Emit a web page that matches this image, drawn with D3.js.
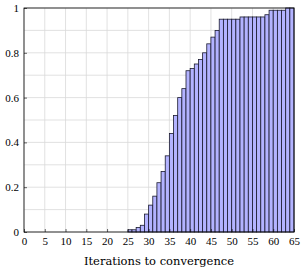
<!DOCTYPE html>
<html>
<head>
<meta charset="utf-8">
<script src="https://cdn.jsdelivr.net/npm/d3@7"></script>
<style>
  body { margin: 0; background: #fff; }
</style>
</head>
<body>
<svg id="chart" width="305" height="275"></svg>
<script>
// Data: iterations (bin start) and cumulative fraction converged
const iterations = [25,26,27,28,29,30,31,32,33,34,35,36,37,38,39,40,41,42,43,44,45,46,47,48,49,50,51,52,53,54,55,56,57,58,59,60,61,62,63,64];
const fraction   = [0.01,0.01,0.02,0.03,0.08,0.12,0.16,0.22,0.27,0.34,0.44,0.52,0.60,0.64,0.72,0.73,0.75,0.77,0.80,0.84,0.87,0.90,0.95,0.95,0.95,0.95,0.95,0.96,0.96,0.96,0.96,0.96,0.96,0.97,0.99,0.99,0.99,0.99,1.00,1.00];
const xTicks = [0,5,10,15,20,25,30,35,40,45,50,55,60,65];
const yTicks = [0,0.2,0.4,0.6,0.8,1];
const yGrid  = [0,0.1,0.2,0.3,0.4,0.5,0.6,0.7,0.8,0.9,1];
const xLabel = "Iterations to convergence";

const svg = d3.select("#chart");
const x = d3.scaleLinear().domain([0, 65]).range([24, 294]);
const y = d3.scaleLinear().domain([0, 1]).range([232, 8]);

// grid
svg.append("g").selectAll("line").data(xTicks).join("line")
  .attr("x1", d => x(d)).attr("x2", d => x(d))
  .attr("y1", y(0)).attr("y2", y(1))
  .attr("stroke", "#d9d9d9").attr("stroke-width", 0.8);
svg.append("g").selectAll("line").data(yGrid).join("line")
  .attr("x1", x(0)).attr("x2", x(65))
  .attr("y1", d => y(d)).attr("y2", d => y(d))
  .attr("stroke", "#d9d9d9").attr("stroke-width", 0.8);

// bars
svg.append("g").selectAll("rect").data(iterations).join("rect")
  .attr("x", d => x(d))
  .attr("width", d => x(d + 1) - x(d))
  .attr("y", (d, i) => y(fraction[i]))
  .attr("height", (d, i) => y(0) - y(fraction[i]))
  .attr("fill", "#b3b3ff")
  .attr("stroke", "#1a1a2e")
  .attr("stroke-width", 0.8);

// axes box
svg.append("rect")
  .attr("x", x(0)).attr("y", y(1))
  .attr("width", x(65) - x(0)).attr("height", y(0) - y(1))
  .attr("fill", "none").attr("stroke", "#000").attr("stroke-width", 0.8);

// x axis ticks/labels
const xAxis = d3.axisBottom(x).tickValues(xTicks).tickSize(3).tickFormat(d3.format("d"));
const gx = svg.append("g").attr("transform", `translate(0,${y(0)})`).call(xAxis)
  .attr("font-family", "Liberation Serif, serif").attr("font-size", 11);
gx.select(".domain").remove();
gx.selectAll(".tick line").attr("y1", -3).attr("y2", 0).attr("stroke", "#000").attr("stroke-width", 0.6);
gx.selectAll(".tick text").attr("y", 5).style("fill", "#000");

// y axis ticks/labels
const yAxis = d3.axisLeft(y).tickValues(yTicks).tickSize(3).tickFormat(d => d3.format("~g")(d));
const gy = svg.append("g").attr("transform", `translate(${x(0)},0)`).call(yAxis)
  .attr("font-family", "Liberation Serif, serif").attr("font-size", 11);
gy.select(".domain").remove();
gy.selectAll(".tick line").attr("x1", 0).attr("x2", 3).attr("stroke", "#000").attr("stroke-width", 0.6);
gy.selectAll(".tick text").attr("x", -5).style("fill", "#000");

// x label
svg.append("text")
  .attr("x", (x(0) + x(65)) / 2).attr("y", 265)
  .attr("text-anchor", "middle")
  .style("font-size", "11.5px")
  .style("font-family", "'DejaVu Serif', serif")
  .style("fill", "#000")
  .text(xLabel);
</script>
</body>
</html>
